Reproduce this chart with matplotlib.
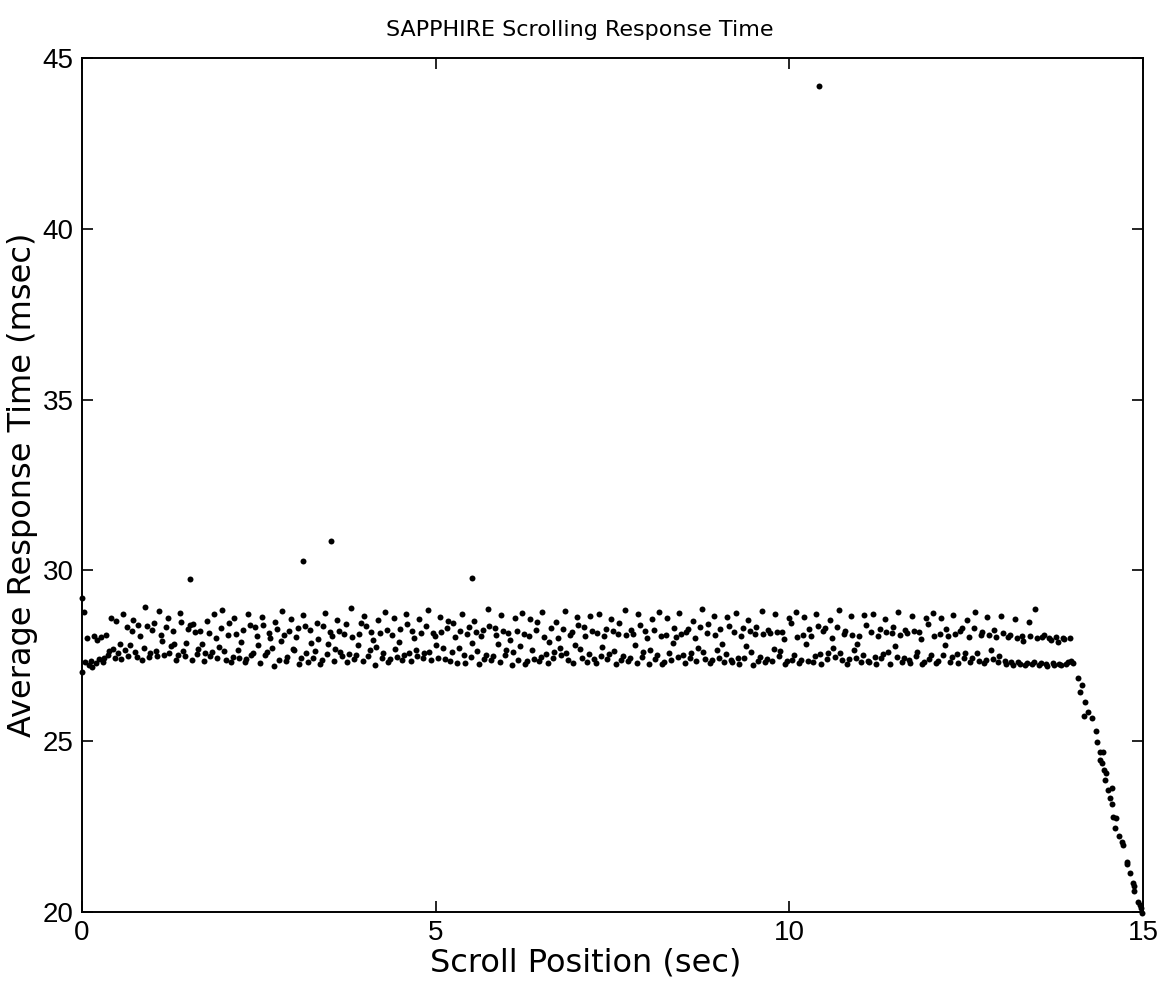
import numpy as np
import matplotlib
matplotlib.use("Agg")
import matplotlib.pyplot as plt

plt.rcParams['font.family'] = ['Liberation Sans', 'DejaVu Sans']

# steady part of the scroll, one sample per frame (msec)
band_y = [
    27.02, 28.78, 27.31, 28.02, 27.22, 27.35, 27.18, 28.08, 27.28, 27.95, 27.41, 28.04, 27.33, 27.45, 28.12, 27.52, 27.63, 28.62, 27.71, 27.44,
    28.51, 27.58, 27.86, 27.42, 28.71, 27.66, 28.34, 27.49, 27.83, 28.22, 28.56, 27.61, 27.47, 28.41, 28.09, 27.38, 27.74, 28.92, 28.38, 27.46,
    27.57, 28.27, 28.45, 27.63, 27.49, 28.81, 28.11, 27.92, 27.53, 28.33, 28.62, 27.58, 27.79, 28.24, 27.86, 27.39, 27.51, 28.76, 28.49, 27.64,
    27.48, 27.88, 28.29, 28.41, 27.37, 28.44, 28.19, 27.54, 27.71, 28.23, 27.84, 27.36, 27.59, 28.51, 28.17, 27.48, 27.62, 28.71, 28.03, 27.44,
    27.76, 28.31, 28.83, 27.64, 27.38, 28.12, 28.46, 27.33, 27.47, 28.61, 28.14, 27.68, 27.43, 27.91, 28.27, 27.31, 27.42, 28.73, 28.39, 27.51,
    27.59, 28.34, 28.07, 27.82, 27.28, 28.63, 28.41, 27.53, 27.61, 28.18, 28.02, 27.73, 27.21, 28.49, 28.28, 27.39, 27.94, 28.82, 28.12, 27.34,
    27.46, 28.22, 28.58, 27.71, 27.66, 28.04, 28.31, 27.27, 27.45, 28.69, 28.36, 27.57, 27.32, 28.26, 27.87, 27.43, 27.64, 28.47, 27.98, 27.26,
    27.38, 28.37, 28.74, 27.55, 27.84, 28.19, 28.09, 27.35, 27.69, 28.56, 28.24, 27.62, 27.48, 28.13, 28.43, 27.31, 27.56, 28.91, 28.06, 27.41,
    27.53, 27.81, 28.15, 28.47, 27.34, 28.66, 28.38, 27.49, 27.66, 28.21, 27.97, 27.24, 27.77, 28.54, 28.17, 27.44, 27.58, 28.79, 28.26, 27.32,
    27.42, 28.11, 28.62, 27.69, 27.46, 27.89, 28.29, 27.38, 27.51, 28.72, 28.43, 27.59, 27.35, 28.24, 28.02, 27.67, 27.49, 28.58, 28.18, 27.43,
    27.57, 28.36, 28.84, 27.61, 27.39, 28.17, 28.07, 27.82, 27.44, 28.63, 28.21, 27.73, 27.41, 28.31, 28.52, 27.36, 27.62, 28.45, 28.04, 27.28,
    27.74, 28.23, 28.71, 27.52, 27.29, 28.14, 28.34, 27.46, 27.88, 28.52, 28.19, 27.64, 27.27, 28.09, 28.27, 27.41, 27.53, 28.88, 28.36, 27.39,
    27.48, 28.32, 28.11, 27.86, 27.33, 28.69, 28.24, 27.51, 27.67, 28.17, 27.96, 27.23, 27.61, 28.61, 28.22, 27.38, 27.79, 28.76, 28.13, 27.26,
    27.36, 28.08, 28.57, 27.66, 27.42, 28.26, 28.48, 27.34, 27.47, 28.78, 28.06, 27.55, 27.29, 27.91, 28.31, 27.44, 27.61, 28.49, 28.01, 27.72,
    27.51, 28.29, 28.81, 27.58, 27.37, 28.12, 28.21, 27.28, 27.83, 28.64, 28.41, 27.69, 27.45, 28.34, 28.07, 27.33, 27.56, 28.67, 28.22, 27.41,
    27.29, 28.18, 28.73, 27.49, 27.76, 28.09, 28.28, 27.42, 27.54, 28.57, 28.24, 27.63, 27.26, 28.13, 28.46, 27.37, 27.48, 28.84, 28.11, 27.35,
    27.44, 28.27, 28.14, 27.81, 27.28, 28.71, 28.39, 27.47, 27.62, 28.23, 28.01, 27.25, 27.68, 28.59, 28.26, 27.41, 27.52, 28.77, 28.09, 27.27,
    27.33, 28.12, 28.61, 27.57, 27.39, 27.87, 28.31, 28.06, 27.46, 28.74, 28.14, 27.51, 27.28, 28.21, 28.29, 27.43, 27.59, 28.52, 28.03, 27.36,
    27.72, 28.33, 28.86, 27.62, 27.41, 28.16, 28.44, 27.29, 27.38, 28.68, 28.11, 27.66, 27.43, 28.28, 27.84, 27.32, 27.54, 28.63, 28.37, 27.38,
    27.31, 28.21, 28.76, 27.45, 27.27, 28.07, 28.32, 27.44, 27.78, 28.54, 28.22, 27.61, 27.24, 28.14, 28.34, 27.36, 27.47, 28.81, 28.13, 27.33,
    27.42, 28.26, 28.17, 27.36, 27.69, 28.73, 28.21, 27.49, 27.63, 28.19, 27.98, 27.26, 27.35, 28.62, 28.47, 27.39, 27.51, 28.78, 28.06, 27.28,
    27.37, 28.11, 28.64, 27.84, 27.34, 28.29, 28.09, 27.33, 27.48, 28.71, 28.36, 27.55, 27.27, 28.23, 28.31, 27.42, 27.58, 28.56, 28.02, 27.74,
    27.46, 28.34, 28.83, 27.59, 27.38, 28.13, 28.22, 27.27, 27.41, 28.66, 28.12, 27.68, 27.44, 27.86, 28.09, 27.31, 27.53, 28.69, 28.41, 27.36,
    27.32, 28.19, 28.72, 27.47, 27.26, 28.08, 28.29, 27.43, 27.56, 28.58, 28.21, 27.62, 27.25, 28.16, 28.33, 27.79, 27.46, 28.79, 28.12, 27.31,
    27.43, 28.27, 28.18, 27.38, 27.28, 28.67, 28.23, 27.48, 27.61, 28.21, 27.99, 27.27, 27.33, 28.61, 28.44, 27.41, 27.52, 28.74, 28.08, 27.29,
    27.35, 28.13, 28.62, 27.53, 27.81, 28.28, 28.07, 27.32, 27.47, 28.69, 28.14, 27.54, 27.28, 28.22, 28.32, 27.43, 27.57, 28.55, 28.04, 27.33,
    27.44, 28.31, 28.79, 27.58, 27.36, 28.12, 28.21, 27.28, 27.39, 28.64, 28.11, 27.66, 27.42, 28.27, 28.06, 27.31, 27.49, 28.66, 28.16, 27.35,
    27.27, 28.06, 28.12, 27.31, 27.24, 28.58, 28.02, 27.33, 27.26, 28.09, 27.94, 27.22, 27.29, 28.48, 28.07, 27.27, 27.31, 28.88, 28.01, 27.24,
    27.28, 28.04, 28.11, 27.26, 27.21, 28.02, 27.96, 27.29, 27.23, 28.06, 27.91, 27.25, 27.22, 28.01, 27.98, 27.27, 27.31, 28.03, 27.36, 27.28,
]
frame_step = 0.0242  # sec between samples

# end of the scroll, where response time falls off
tail_x = [14.08, 14.14, 14.11, 14.18, 14.22, 14.17, 14.28, 14.34, 14.35, 14.39, 14.44, 14.39,
          14.42, 14.45, 14.48, 14.46, 14.51, 14.56, 14.53, 14.56, 14.58, 14.62, 14.60, 14.66,
          14.70, 14.72, 14.77, 14.77, 14.82, 14.86, 14.87, 14.87, 14.93, 14.96, 14.97, 14.99]
tail_y = [26.85, 26.65, 26.44, 26.15, 25.85, 25.74, 25.68, 25.30, 24.98, 24.68, 24.68, 24.45,
          24.36, 24.16, 24.07, 23.86, 23.57, 23.63, 23.34, 23.16, 22.78, 22.75, 22.46, 22.22,
          22.05, 21.96, 21.46, 21.41, 21.14, 20.85, 20.76, 20.61, 20.29, 20.20, 20.12, 19.97]

# isolated slow frames
outlier_x = [0.0, 1.53, 3.12, 3.52, 5.51, 10.42]
outlier_y = [29.2, 29.75, 30.27, 30.86, 29.78, 44.18]

band_x = np.arange(len(band_y)) * frame_step

fig = plt.figure(figsize=(11.6, 9.88), dpi=100)
ax = fig.add_axes([0.0707, 0.0769, 0.9146, 0.8644])

ms = 4.3
ax.plot(band_x, band_y, 'o', color='k', markersize=ms, markeredgewidth=0, clip_on=False)
ax.plot(tail_x, tail_y, 'o', color='k', markersize=ms, markeredgewidth=0, clip_on=False)
ax.plot(outlier_x, outlier_y, 'o', color='k', markersize=ms, markeredgewidth=0, clip_on=False)

ax.set_xlim(0, 15)
ax.set_ylim(20, 45)
ax.set_xticks([0, 5, 10, 15])
ax.set_yticks([20, 25, 30, 35, 40, 45])
ax.tick_params(direction='in', length=8, width=1.2, top=True, right=True, labelsize=20, pad=6)
for s in ax.spines.values():
    s.set_linewidth(1.4)

# the scanned labels are widely spaced, DejaVu gets closer to their width
wide = ['DejaVu Sans']
ax.set_title('SAPPHIRE Scrolling Response Time', fontsize=16, family=wide,
             x=0.469, y=1.033, va='center', pad=0)
ax.set_xlabel('Scroll Position (sec)', fontsize=23, family=wide, va='center')
ax.xaxis.set_label_coords(0.475, -0.060)
ax.set_ylabel('Average Response Time (msec)', fontsize=23, family=wide, va='center')
ax.yaxis.set_label_coords(-0.056, 0.5)

fig.savefig('out.png', dpi=100)
